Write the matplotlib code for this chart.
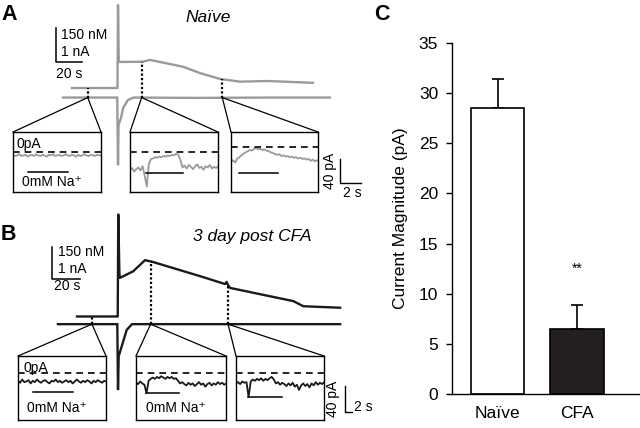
import numpy as np
import matplotlib.pyplot as plt
from matplotlib.patches import ConnectionPatch

plt.rcParams['font.family'] = ['Liberation Sans', 'DejaVu Sans']

W, H = 640, 428
GRAY = '#9a9a9a'
BLACK = '#1a1a1a'
CA_REST = 100.0   # nM
NM_PER_NA = 150.0  # scale bar: 150 nM <-> 1 nA

# ---- A: naive, whole-cell current (nA) and Ca (nM) vs time (s)
a_cur_t = [-42.3, -0.6, 0.0, 0.4, 2.3, 4.0, 7.7, 12.0, 60.0, 120.0, 163.0]
a_cur_nA = [0.0, 0.0, -1.99, -0.8, -0.6, -0.3, -0.07, 0.0, -0.01, 0.0, 0.0]
a_ca_t = [-35.4, -1.5, -0.4, 0.0, 0.6, 1.5, 19.2, 24.6, 50.0, 63.0, 78.5, 93.8, 114.6, 150.0]
a_ca_nM = [100, 100, 100, 466, 220, 215, 216, 224, 194, 166, 140, 128, 131, 123]
a_zoom_t = [-23.3, 18.2, 80.2]

# ---- B: 3 day post CFA
b_cur_t = [-42.9, -0.5, 0.0, 0.5, 2.6, 6.2, 10.0, 158.6]
b_cur_nA = [0.0, 0.0, -2.06, -1.0, -0.7, -0.18, 0.0, 0.0]
b_ca_t = [-29.3, -0.7, -0.2, 0.2, 1.0, 1.4, 10.9, 19.3, 25.2, 34.8, 58.6, 76.5, 77.6,
          78.5, 80.0, 106.2, 125.2, 132.4, 158.6]
b_ca_nM = [100, 100, 100, 578, 300, 281, 312, 364, 355, 336, 289, 252, 262,
           248, 234, 198, 172, 148, 141]
b_zoom_t = [-18.6, 23.3, 78.6]

# ---- zoomed insets, current in pA sampled every 0.2 s
DT = 0.2
a_in = [
    [-4, -6, -5, -3, -6, -5, -4, -7, -5, -4, -6, -3, -5, -6, -4, -5, -7, -4, -5, -3, -6, -5,
     -4, -6, -5, -3, -5, -6, -4, -5, -7, -4, -6, -5, -3, -5, -6, -4, -5, -6, -4, -5, -5],
    [-30, -27, -33, -29, -26, -31, -24, -40, -58, -20, -12, -11, -9, -10, -8, -9, -7, -8, -6,
     -7, -5, -6, -3, -5, -14, -26, -23, -28, -22, -25, -29, -24, -21, -27, -25, -30, -24,
     -26, -22, -28, -25, -27, -24],
    [-25, -22, -26, -19, -17, -14, -11, -9, -7, -5, -6, -3, -2, -4, -3, -5, -4, -6, -7, -9,
     -10, -12, -13, -12, -15, -14, -16, -15, -17, -16, -18, -17, -19, -18, -20, -19, -21,
     -20, -23, -21, -24, -22, -24],
]
b_in = [
    [-12, -15, -10, -14, -13, -11, -16, -12, -14, -10, -13, -15, -12, -11, -14, -16, -12,
     -13, -10, -14, -12, -15, -13, -11, -14, -12, -16, -13, -10, -13, -15, -12, -14, -11,
     -13, -16, -12, -14, -11, -13, -15, -12, -13],
    [-15, -17, -13, -16, -18, -31, -12, -9, -7, -9, -6, -8, -5, -7, -9, -6, -8, -6, -9, -8,
     -12, -16, -14, -17, -19, -15, -18, -16, -20, -17, -14, -18, -16, -21, -17, -15, -19,
     -16, -18, -14, -17, -15, -18, -16],
    [-16, -14, -17, -13, -15, -14, -37, -13, -10, -12, -9, -11, -8, -12, -9, -11, -8, -6,
     -10, -16, -14, -18, -15, -17, -20, -16, -19, -15, -21, -18, -26, -19, -16, -20, -17,
     -22, -16, -19, -14, -18, -15, -17, -14],
]
# 0 mM Na+ application: (start s, end s, drawn level pA)
a_stim = [(1.4, 5.2, -32), (1.5, 5.0, -35), (0.76, 4.5, -43)]
b_stim = [(1.4, 5.2, -29), (0.95, 4.1, -31), (1.17, 4.35, -37)]

# ---- C: current magnitude
groups = ['Naïve', 'CFA']
magnitude = [28.5, 6.5]
sem = [2.9, 2.4]

fig = plt.figure(figsize=(W / 100, H / 100), dpi=100)


def px_axes(x0, y0, x1, y1, **kw):
    return fig.add_axes([x0 / W, 1 - y1 / H, (x1 - x0) / W, (y1 - y0) / H], **kw)


def trace_panel(box, xlim, ylim, cur_t, cur, ca_t, ca, ca_off, color, zoom_t):
    ax = px_axes(*box)
    ax.set_xlim(*xlim)
    ax.set_ylim(*ylim)
    ax.axis('off')
    ax.patch.set_alpha(0)
    ca_y = (np.array(ca) - CA_REST) / NM_PER_NA + ca_off
    ax.plot(cur_t, cur, color=color, lw=1.7, solid_joinstyle='miter')
    ax.plot(ca_t, ca_y, color=color, lw=1.7)
    for t in zoom_t:
        top = np.interp(t, ca_t, ca_y)
        ax.plot([t, t], [0, top], color='k', lw=1.6, ls=(0, (1, 1)))
    return ax


def inset(box, vals, ylim, stim, color):
    ax = px_axes(*box)
    width_s = (box[2] - box[0]) / 10.5
    ax.set_xlim(0, width_s)
    ax.set_ylim(*ylim)
    ax.set_xticks([])
    ax.set_yticks([])
    for s in ax.spines.values():
        s.set_linewidth(1.0)
    t = np.arange(len(vals)) * DT
    ax.plot(t, vals, color=color, lw=1.3)
    ax.axhline(0, color='k', lw=1.2, ls=(0, (4, 3)))
    ax.plot([stim[0], stim[1]], [stim[2], stim[2]], color='k', lw=1.1)
    return ax


def connect(main_ax, t, ins):
    for corner in [(0, 1), (1, 1)]:
        con = ConnectionPatch(xyA=(t, 0), coordsA=main_ax.transData,
                              xyB=corner, coordsB=ins.transAxes,
                              color='k', lw=0.9)
        fig.add_artist(con)


# Panel A
axA = trace_panel((40, 0, 345, 170), (-60, 174.6), (-2.13, 2.868),
                  a_cur_t, a_cur_nA, a_ca_t, a_ca_nM, 0.28, GRAY, a_zoom_t)
axA.plot([-47.7, -47.7, -27.7], [2.05, 1.05, 1.05], color='k', lw=1.1)
axA.text(-43.8, 1.84, '150 nM', fontsize=10, va='center')
axA.text(-43.8, 1.34, '1 nA', fontsize=10, va='center')
axA.text(-47.7, 0.68, '20 s', fontsize=10, va='center')
axA.text(69.2, 2.34, 'Naïve', fontsize=12.5, style='italic', ha='center', va='center')

a_boxes = [(13, 132, 101, 192), (130, 132, 218, 192), (231, 132, 318, 192)]
a_ylims = [(-66, 34), (-67, 33), (-75, 25)]
a_axes = []
for box, vals, yl, st, t in zip(a_boxes, a_in, a_ylims, a_stim, a_zoom_t):
    ins = inset(box, vals, yl, st, GRAY)
    connect(axA, t, ins)
    a_axes.append(ins)
a_axes[0].text(0.38, 14, '0pA', fontsize=10, va='center')
a_axes[0].text(0.86, -49, '0mM Na⁺', fontsize=10, va='center')
sb = a_axes[2]
sb.plot([10.4, 10.4, 12.4], [-20, -60, -60], color='k', lw=1.0, clip_on=False)
sb.text(9.45, -40, '40 pA', fontsize=10, rotation=90, ha='center', va='center')
sb.text(10.7, -77, '2 s', fontsize=10, va='center')

# Panel B
axB = trace_panel((40, 200, 345, 400), (-55.7, 162.1), (-2.37, 3.88),
                  b_cur_t, b_cur_nA, b_ca_t, b_ca_nM, 0.24, BLACK, b_zoom_t)
axB.plot([-47.1, -47.1, -27.1], [2.42, 1.42, 1.42], color='k', lw=1.1)
axB.text(-42.9, 2.25, '150 nM', fontsize=10, va='center')
axB.text(-42.9, 1.72, '1 nA', fontsize=10, va='center')
axB.text(-45.7, 1.18, '20 s', fontsize=10, va='center')
axB.text(95.7, 2.73, '3 day post CFA', fontsize=12.5, style='italic', ha='center', va='center')

b_boxes = [(18, 356, 106, 420), (136, 356, 226, 420), (236, 356, 324, 420)]
b_axes = []
for box, vals, st, t in zip(b_boxes, b_in, b_stim, b_zoom_t):
    ins = inset(box, vals, (-72, 26), st, BLACK)
    connect(axB, t, ins)
    b_axes.append(ins)
b_axes[0].text(0.48, 8, '0pA', fontsize=10, va='center')
b_axes[0].text(0.83, -54, '0mM Na⁺', fontsize=10, va='center')
b_axes[1].text(1.0, -54, '0mM Na⁺', fontsize=10, va='center')
sb = b_axes[2]
sb.plot([10.4, 10.4, 11.0], [-20, -60, -60], color='k', lw=1.0, clip_on=False)
sb.text(9.26, -40, '40 pA', fontsize=10, rotation=90, ha='center', va='center')
sb.text(11.2, -52, '2 s', fontsize=10, va='center')

# Panel C
axC = px_axes(452, 43, 640, 394)
x = np.arange(len(groups))
axC.bar(x, magnitude, width=0.67, color=['white', '#231f20'], edgecolor='k', lw=1.2, zorder=2)
axC.errorbar(x, magnitude, yerr=[[0, 0], sem], fmt='none', ecolor='k',
             elinewidth=1.2, capsize=4.5, capthick=1.2, zorder=1)
axC.set_xlim(-0.572, 1.79)
axC.set_ylim(0, 35)
axC.set_yticks(range(0, 36, 5))
axC.set_xticks(x)
axC.set_xticklabels(groups)
axC.tick_params(axis='y', labelsize=12.5, length=4, width=1, pad=6)
axC.tick_params(axis='x', labelsize=12.5, length=0, pad=9)
axC.spines['top'].set_visible(False)
axC.spines['right'].set_visible(False)
for s in ['left', 'bottom']:
    axC.spines[s].set_linewidth(1.0)
axC.set_ylabel('Current Magnitude (pA)', fontsize=12.5, labelpad=8)
axC.text(1, 12.5, '**', fontsize=10, ha='center', va='center')

# panel letters
for lbl, (px, py) in zip('ABC', [(9, 14), (8, 235), (382, 15)]):
    fig.text(px / W, 1 - py / H, lbl, fontsize=15.5, fontweight='bold', ha='center', va='center')

fig.savefig('out.png', dpi=100)
